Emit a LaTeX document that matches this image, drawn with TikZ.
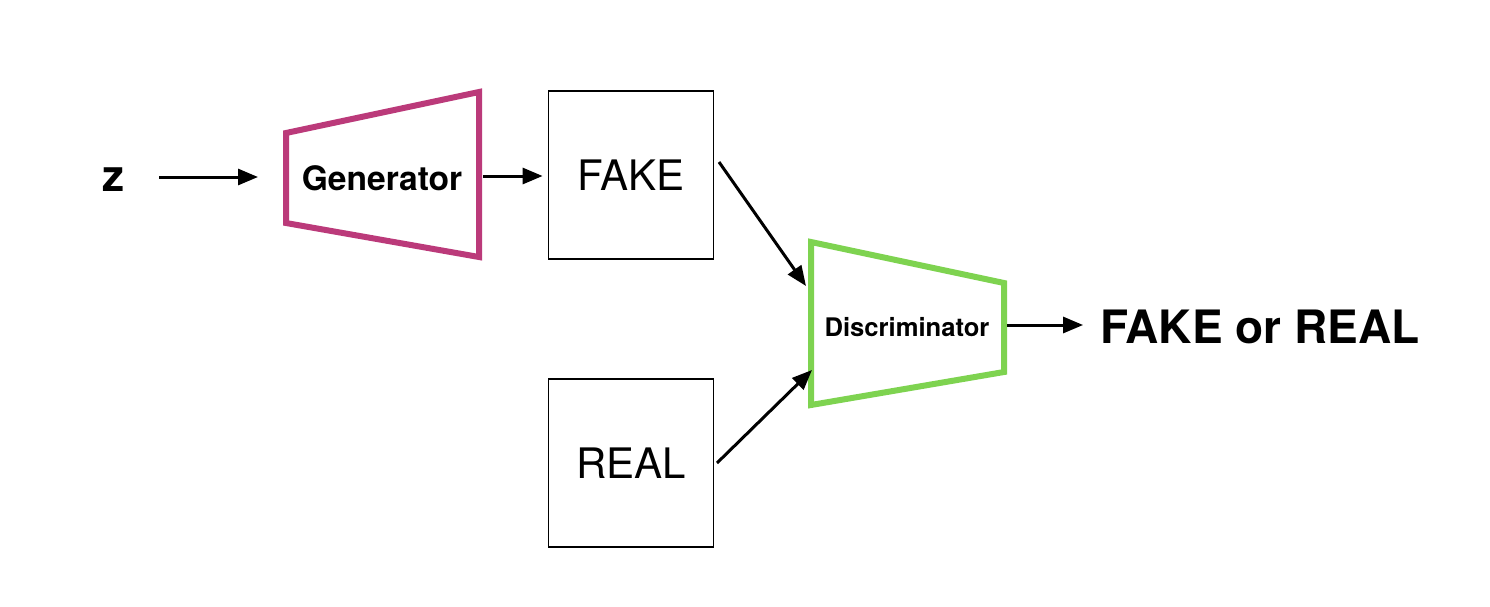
\documentclass[tikz,border=0pt]{standalone}
\usepackage{fontspec}
\setmainfont{TeX Gyre Heros}
\usetikzlibrary{arrows.meta}

\definecolor{genpink}{RGB}{187,58,122}
\definecolor{discgreen}{RGB}{126,211,80}

\tikzset{every picture/.style={line width=0.75pt}}

\begin{document}
\begin{tikzpicture}[x=0.5pt,y=0.5pt,yscale=-1,xscale=1,
  arr/.style={-{Triangle[length=10pt,width=8pt]},line width=1.5pt},
  netline/.style={line width=3pt},
  imgbox/.style={draw,line width=0.9pt,minimum width=82.5pt,minimum height=84pt,inner sep=0pt,font=\fontsize{21}{25}\selectfont}]
\useasboundingbox (0,0) rectangle (1490,606);

%Shape: Trapezoid [generator]
\draw [genpink,netline] (286,133) -- (479,92) -- (479,257) -- (286,223) -- cycle ;
%Shape: Trapezoid [discriminator]
\draw [discgreen,netline] (811,242) -- (1004,283) -- (1004,372) -- (811,405) -- cycle ;

%Shape: Rectangle [fake]
\node [imgbox] (fake) at (631,175) {FAKE};
%Shape: Rectangle [real]
\node [imgbox] (real) at (631,463) {REAL};

% Text Node
\node (z) at (113,180) {\fontsize{22}{26}\selectfont\bfseries z};
% Text Node
\node (gen) at (382,178) {\fontsize{16.8}{20}\selectfont\bfseries Generator};
% Text Node
\node (disc) at (907,327) {\fontsize{12.8}{15}\selectfont\bfseries Discriminator};
% Text Node
\node (out) at (1260,327) {\fontsize{23}{28}\selectfont\bfseries FAKE or REAL};

% ports
\coordinate (gen-in) at (258,177);
\coordinate (gen-out) at (483,176);
\coordinate (fake-out) at (719,162);
\coordinate (real-out) at (717,463);
\coordinate (disc-in1) at (806,286);
\coordinate (disc-in2) at (812,370);
\coordinate (disc-out) at (1007,325);

%Straight Lines
\draw [arr,shorten <=14pt] (z.east |- gen-in) -- (gen-in) ;
\draw [arr,shorten >=2.5pt] (gen-out) -- (fake.west |- gen-out) ;
\draw [arr] (fake-out) -- (disc-in1) ;
\draw [arr] (real-out) -- (disc-in2) ;
\draw [arr,shorten >=5pt] (disc-out) -- (out.west |- disc-out) ;

\end{tikzpicture}
\end{document}
